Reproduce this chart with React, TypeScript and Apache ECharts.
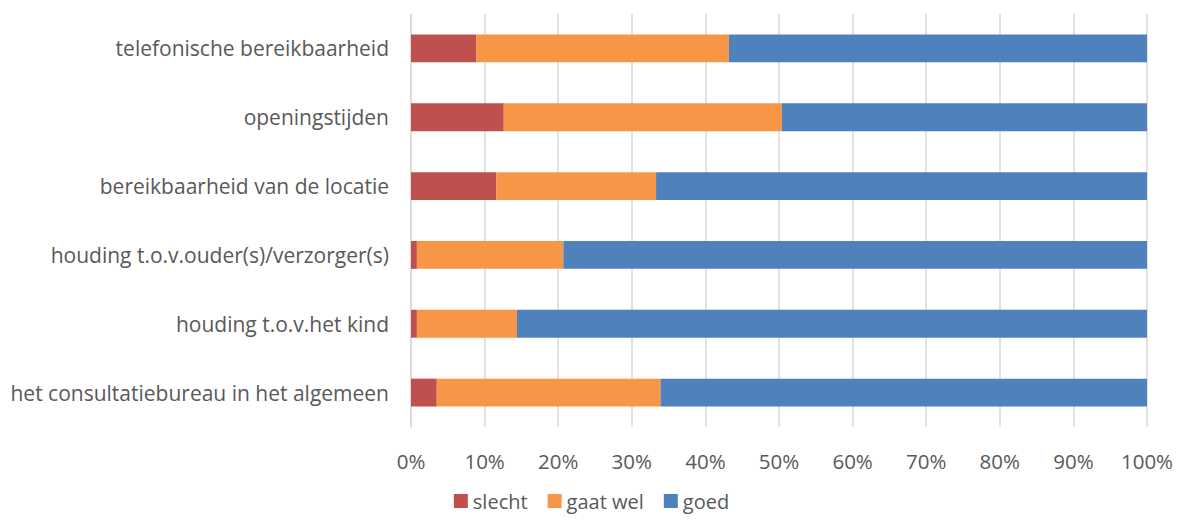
import React, { useEffect, useRef } from "react";
import * as echarts from "echarts";

const categories = [
  "telefonische bereikbaarheid",
  "openingstijden",
  "bereikbaarheid van de locatie",
  "houding t.o.v.ouder(s)/verzorger(s)",
  "houding t.o.v.het kind",
  "het consultatiebureau in het algemeen",
];
const slecht = [8.9, 12.6, 11.6, 0.8, 0.8, 3.5];
const gaatWel = [34.3, 37.8, 21.7, 19.9, 13.6, 30.4];
const goed = [56.8, 49.6, 66.7, 79.3, 85.6, 66.1];
const seriesNames = ["slecht", "gaat wel", "goed"];
const colors = ["#C0504D", "#F79646", "#4F81BD"];

export default function App() {
  const ref = useRef<HTMLDivElement>(null);
  useEffect(() => {
    if (!ref.current) return;
    const chart = echarts.init(ref.current, null, { renderer: "svg" });
    const font = "'Open Sans', 'Noto Sans', sans-serif";
    const data = [slecht, gaatWel, goed];
    chart.setOption({
      animation: false,
      textStyle: { fontFamily: font },
      grid: { left: 411, right: 36, top: 14, bottom: 96, containLabel: false },
      legend: {
        data: seriesNames,
        left: "center",
        top: 489,
        padding: 0,
        itemWidth: 14,
        itemHeight: 14,
        itemGap: 20,
        itemTextGap: 6,
        icon: "rect",
        textStyle: { color: "#595959", fontSize: 20, lineHeight: 24, fontFamily: font },
      },
      xAxis: {
        type: "value",
        min: 0,
        max: 100,
        interval: 10,
        axisLabel: {
          formatter: "{value}%",
          color: "#595959",
          fontSize: 20.5,
          margin: 23,
          fontFamily: font,
        },
        splitLine: { lineStyle: { color: "#D9D9D9", width: 1.5 } },
        axisLine: { show: false },
        axisTick: { show: false },
      },
      yAxis: {
        type: "category",
        data: categories,
        inverse: true,
        axisLabel: { color: "#595959", fontSize: 21, margin: 22, fontFamily: font },
        axisLine: { show: true, lineStyle: { color: "#D9D9D9", width: 1.5 } },
        axisTick: { show: false },
      },
      series: seriesNames.map((name, i) => ({
        name,
        type: "bar",
        stack: "total",
        barWidth: "40.5%",
        data: data[i],
        itemStyle: { color: colors[i] },
      })),
    });
    return () => chart.dispose();
  }, []);
  return <div ref={ref} style={{ width: 1183, height: 523, position: "absolute", left: 0, top: 0 }} />;
}
